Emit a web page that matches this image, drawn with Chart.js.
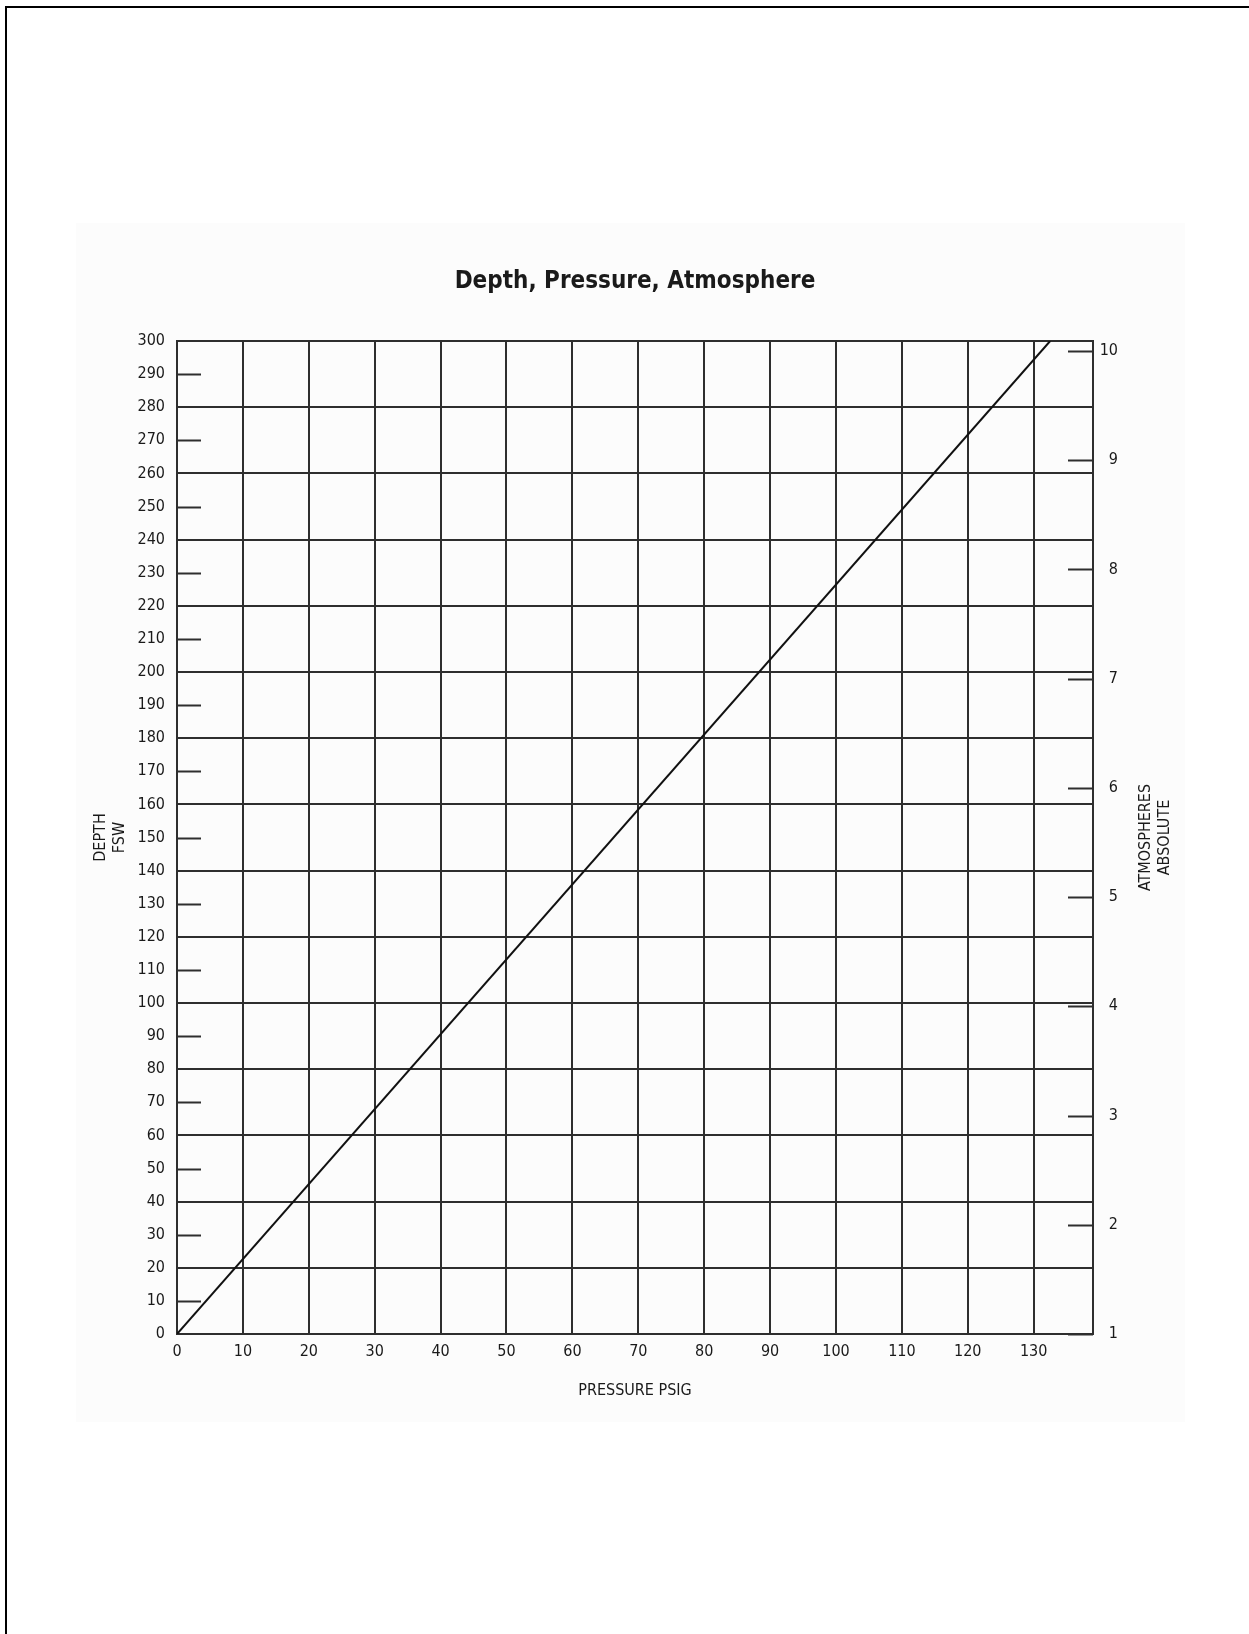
<!DOCTYPE html>
<html>
<head>
<meta charset="utf-8">
<title>Depth, Pressure, Atmosphere</title>
<script src="https://cdn.jsdelivr.net/npm/chart.js@4.4.1/dist/chart.umd.min.js"></script>
<style>
    html, body { margin: 0; padding: 0; background: #fff; overflow: hidden; }
    body { width: 1249px; height: 1634px; position: relative; }
    #frame {
        position: absolute; left: 5px; top: 6px; width: 1300px; height: 1700px;
        border-top: 2px solid #000; border-left: 2px solid #000;
    }
    #chart { position: absolute; left: 76px; top: 223px; background: #fcfcfc; }
</style>
</head>
<body>
<div id="frame"></div>
<canvas id="chart" width="1109" height="1199"></canvas>
<script>
// pressure gauge (psig) ticks along the bottom
const pressureTicks = [0, 10, 20, 30, 40, 50, 60, 70, 80, 90, 100, 110, 120, 130];

// depth in feet of sea water, labelled every 10, ruled every 20
const depthTicks = [0, 10, 20, 30, 40, 50, 60, 70, 80, 90, 100, 110, 120, 130, 140, 150,
    160, 170, 180, 190, 200, 210, 220, 230, 240, 250, 260, 270, 280, 290, 300];
const depthRuled = [0, 20, 40, 60, 80, 100, 120, 140, 160, 180, 200, 220, 240, 260, 280, 300];
const depthShortMarks = [10, 30, 50, 70, 90, 110, 130, 150, 170, 190, 210, 230, 250, 270, 290];

// atmospheres absolute on the right
const ataTicks = [1, 2, 3, 4, 5, 6, 7, 8, 9, 10];
const fswPerAtm = 33;

// the conversion line, psig -> fsw
const linePressure = [0, 132.5];
const lineDepth = [0, 300];

const FONT = '"Liberation Sans Narrow", "DejaVu Sans Condensed", "Arial Narrow", sans-serif';
const INK = '#1a1a1a';
const RULE = '#2e2e2e';

const asTicks = (values) => (scale) => { scale.ticks = values.map(v => ({ value: v })); };

const sideMarksPlugin = {
    id: 'sideMarks',
    beforeDatasetsDraw: function (chart) {
        const { ctx, chartArea, scales: { y, yAta } } = chart;
        ctx.save();
        ctx.strokeStyle = RULE;
        ctx.lineWidth = 2;
        ctx.beginPath();
        depthShortMarks.forEach(v => {
            const py = Math.round(y.getPixelForValue(v)) + 0.5;
            ctx.moveTo(chartArea.left, py);
            ctx.lineTo(chartArea.left + 24, py);
        });
        ataTicks.forEach(v => {
            const py = Math.round(yAta.getPixelForValue(v)) + 0.5;
            ctx.moveTo(chartArea.right - 25, py);
            ctx.lineTo(chartArea.right, py);
        });
        ctx.stroke();
        ctx.restore();
    },
    afterDraw: function (chart) {
        // right hand axis title reads bottom to top, like the left one
        const { ctx, chartArea } = chart;
        ctx.save();
        ctx.fillStyle = INK;
        ctx.font = '16px ' + FONT;
        ctx.textAlign = 'center';
        ctx.textBaseline = 'middle';
        ctx.translate(chartArea.right + 53, (chartArea.top + chartArea.bottom) / 2);
        ctx.rotate(-Math.PI / 2);
        ctx.fillText('ATMOSPHERES', 0, 0);
        ctx.fillText('ABSOLUTE', 0, 19);
        ctx.restore();
    }
};

const tickFont = { family: FONT, size: 16 };

const config = {
    type: 'scatter',
    data: {
        datasets: [{
            label: 'Depth',
            data: linePressure.map((p, i) => ({ x: p, y: lineDepth[i] })),
            showLine: true,
            borderColor: '#111',
            borderWidth: 2,
            pointRadius: 0,
            yAxisID: 'y'
        }]
    },
    options: {
        responsive: false,
        animation: false,
        layout: { padding: { left: 0, top: 0, bottom: 0, right: 67 } },
        plugins: {
            legend: { display: false },
            tooltip: { enabled: false },
            title: {
                display: true,
                fullSize: false,
                text: 'Depth, Pressure, Atmosphere',
                color: INK,
                font: { family: FONT, size: 24, weight: 'bold' },
                padding: { top: 44.6, bottom: 44.6 }
            }
        },
        scales: {
            x: {
                type: 'linear',
                min: 0,
                max: 139,
                afterBuildTicks: asTicks(pressureTicks),
                afterFit: function (scale) { scale.height = 88; },
                grid: { color: RULE, lineWidth: 2, drawTicks: false },
                border: { display: true, color: RULE, width: 2 },
                ticks: { color: INK, font: tickFont, padding: 8, maxRotation: 0, autoSkip: false },
                title: {
                    display: true,
                    text: 'PRESSURE PSIG',
                    color: INK,
                    font: tickFont,
                    padding: { top: 0, bottom: 22 }
                }
            },
            y: {
                type: 'linear',
                position: 'left',
                min: 0,
                max: 300,
                afterBuildTicks: asTicks(depthTicks),
                afterFit: function (scale) { scale.width = 101; },
                grid: {
                    color: (c) => (c.tick && depthRuled.includes(c.tick.value)) ? RULE : 'rgba(0,0,0,0)',
                    lineWidth: 2,
                    drawTicks: false
                },
                border: { display: true, color: RULE, width: 2 },
                ticks: { color: INK, font: tickFont, padding: 12, autoSkip: false },
                title: {
                    display: true,
                    text: ['DEPTH', 'FSW'],
                    color: INK,
                    font: tickFont,
                    padding: { top: 15, bottom: 0 }
                }
            },
            yAta: {
                type: 'linear',
                position: 'right',
                min: ataTicks[0],
                max: ataTicks[0] + depthTicks[depthTicks.length - 1] / fswPerAtm,
                afterBuildTicks: asTicks(ataTicks),
                afterFit: function (scale) { scale.width = 25; },
                grid: { drawOnChartArea: false, drawTicks: false },
                border: { display: true, color: RULE, width: 2 },
                ticks: { color: INK, font: tickFont, padding: 8, crossAlign: 'far', autoSkip: false }
            }
        }
    },
    plugins: [sideMarksPlugin]
};

const myChart = new Chart(document.getElementById('chart'), config);
</script>
</body>
</html>
